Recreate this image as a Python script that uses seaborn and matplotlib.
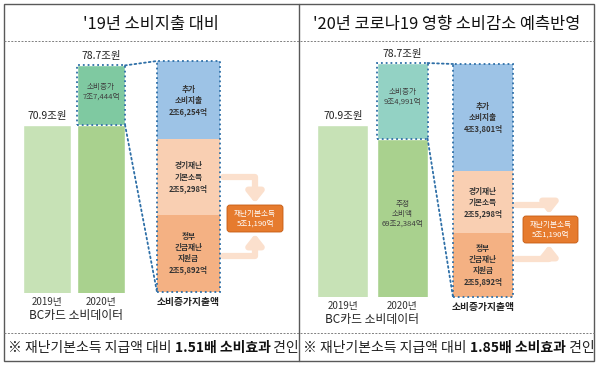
import matplotlib
matplotlib.use('Agg')
import matplotlib.pyplot as plt
import seaborn as sns
from matplotlib.patches import Rectangle, FancyBboxPatch, ConnectionPatch

# 데이터 (단위: 조원)
titles = ["'19년 소비지출 대비", "'20년 코로나19 영향 소비감소 예측반영"]
years = ['2019년', '2020년']
spend_2019 = [70.9, 70.9]
label_2020 = [78.7, 78.7]
base_2020 = [70.9, 69.2384]
increase = [7.7444, 9.4991]
base_text = [None, '추정\n소비액']
# 누적 막대: 아래에서 위 순서
stack_names = ['정부\n긴급재난\n지원금', '경기재난\n기본소득', '추가\n소비지출']
stack_left = [2.5892, 2.5298, 2.6254]
stack_right = [2.5892, 2.5298, 4.3801]
stacks = [stack_left, stack_right]
ratios = ['1.51배', '1.85배']

# 색상
c_2019 = '#c7e2b6'
c_2020 = '#a9d18e'
c_inc = ['#7fc9a1', '#93d2c4']
c_stack = ['#f4b183', '#f9cfb2', '#9dc3e6']
c_dot = '#2e6fa7'
c_arrow = '#fbe0cd'
c_box = '#e67b2e'
c_line = '#595959'


def fmt(v):
    jo = int(v)
    eok = int(round((v - jo) * 10000))
    return f'{jo}조{eok:,}억'


sns.set_theme(style='white')
plt.rcParams['font.family'] = ['Noto Sans CJK KR', 'DejaVu Sans']

W, H = 600, 366
fig = plt.figure(figsize=(6, 3.66), dpi=100)
bg = fig.add_axes([0, 0, 1, 1])
bg.set_xlim(0, W)
bg.set_ylim(H, 0)
bg.axis('off')


def px_axes(x0, y0, x1, y1):
    ax = fig.add_axes([x0 / W, 1 - y1 / H, (x1 - x0) / W, (y1 - y0) / H])
    ax.patch.set_alpha(0)
    return ax


# 표 테두리
bg.add_patch(Rectangle((4, 4), 590, 357, fill=False, ec=c_line, lw=1))
bg.plot([299, 299], [4, 361], color=c_line, lw=1)
for yy in (41, 333):
    bg.plot([4, 594], [yy, yy], color='#808080', lw=0.7, ls=(0, (2, 1.5)))

# 패널별 위치 (px)
layout = [
    dict(cx=151, main=(20, 55, 128, 293), ylo=49.0, w=0.89,
         stack=(157, 61, 220, 292), box=(227, 205, 283, 232),
         up_y=177, lo_y=256, ax_x=255, bc=(76, 316), foot_x=8),
    dict(cx=447, main=(313, 53, 432, 297), ylo=49.3, w=0.85,
         stack=(453, 64, 513, 297), box=(523, 216, 578, 243),
         up_y=205, lo_y=259, ax_x=549, bc=(372, 320), foot_x=303),
]

for i, L in enumerate(layout):
    bg.text(L['cx'], 24, titles[i], ha='center', va='center', fontsize=11.8, color='#111111')

    # 연도별 막대
    ax = px_axes(*L['main'])
    top_2020 = base_2020[i] + increase[i]
    sns.barplot(x=years, y=[spend_2019[i], top_2020], hue=years, palette=[c_2019, c_inc[i]],
                width=L['w'], saturation=1, legend=False, ax=ax)
    sns.barplot(x=years, y=[spend_2019[i], base_2020[i]], hue=years, palette=[c_2019, c_2020],
                width=L['w'], saturation=1, legend=False, ax=ax)
    ax.bar(1, increase[i], bottom=base_2020[i], width=L['w'], fill=False,
           edgecolor=c_dot, ls=':', lw=1.3, clip_on=False)
    ax.set_ylim(L['ylo'], 80)
    ax.set_xlim(-0.5, 1.5)
    ax.set_xlabel('')
    ax.set_ylabel('')
    ax.set_yticks([])
    sns.despine(ax=ax, left=True, bottom=True)
    ax.tick_params(axis='x', length=0, labelsize=7, colors='#333333', pad=3)

    ax.annotate(f'{spend_2019[i]}조원', (0, spend_2019[i]), xytext=(0, 3), textcoords='offset points',
                ha='center', va='bottom', fontsize=7.5, color='#222222')
    ax.annotate(f'{label_2020[i]}조원', (1, top_2020), xytext=(0, 3), textcoords='offset points',
                ha='center', va='bottom', fontsize=7.5, color='#222222')
    ax.text(1, base_2020[i] + increase[i] * 0.55, '소비증가\n' + fmt(increase[i]),
            ha='center', va='center', fontsize=5.5, color='#404040', linespacing=1.3)
    if base_text[i]:
        ax.text(1, base_2020[i] - 9.5, base_text[i] + '\n' + fmt(base_2020[i]),
                ha='center', va='center', fontsize=5.5, color='#404040', linespacing=1.3)

    # 소비증가지출액 누적 막대
    sx = px_axes(*L['stack'])
    vals = stacks[i]
    bottom = 0
    for name, v, c in zip(stack_names, vals, c_stack):
        sx.bar(0, v, bottom=bottom, width=1, color=c, edgecolor='none')
        sx.text(0, bottom + v / 2, name + '\n' + fmt(v), ha='center', va='center',
                fontsize=5.5, fontweight='bold', color='#333333', linespacing=1.3)
        bottom += v
    sx.bar(0, bottom, width=1, fill=False, edgecolor=c_dot, ls=':', lw=1.3, clip_on=False)
    sx.set_xlim(-0.5, 0.5)
    sx.set_ylim(0, bottom)
    sx.axis('off')

    # 점선 연결
    for pa, pb in (((1 + L['w'] / 2, top_2020), (-0.5, bottom)),
                   ((1 + L['w'] / 2, base_2020[i]), (-0.5, 0))):
        con = ConnectionPatch(xyA=pa, coordsA=ax.transData, xyB=pb, coordsB=sx.transData,
                              color=c_dot, ls=':', lw=1.3)
        fig.add_artist(con)

    bg.text(L['bc'][0], L['bc'][1], 'BC카드 소비데이터', ha='center', va='center',
            fontsize=8.5, color='#222222')
    bg.text((L['stack'][0] + L['stack'][2]) / 2, L['stack'][3] + 10, '소비증가지출액',
            ha='center', va='center', fontsize=7, fontweight='bold', color='#222222')

    # 재난기본소득 합계 상자와 화살표
    x0, y0, x1, y1 = L['box']
    bg.add_patch(FancyBboxPatch((x0, y0), x1 - x0, y1 - y0, boxstyle='round,pad=0,rounding_size=3',
                                fc=c_box, ec='#c55a11', lw=0.6))
    bg.text((x0 + x1) / 2, (y0 + y1) / 2, '재난기본소득\n' + fmt(vals[0] + vals[1]),
            ha='center', va='center', fontsize=5.5, color='white', linespacing=1.3)
    sxr = L['stack'][2] + 3
    for ys, ye in ((L['up_y'], y0 - 2), (L['lo_y'], y1 + 2)):
        bg.annotate('', xy=(L['ax_x'], ye), xytext=(sxr, ys),
                    arrowprops=dict(arrowstyle='-|>,head_length=0.5,head_width=0.4',
                                    color=c_arrow, lw=4.5, mutation_scale=12, shrinkA=0, shrinkB=0,
                                    connectionstyle='angle,angleA=0,angleB=90,rad=0'))

    # 하단 요약 문구
    t1 = bg.text(L['foot_x'], 348, '※ 재난기본소득 지급액 대비 ', ha='left', va='center',
                 fontsize=10, color='#222222')
    t2 = bg.annotate(ratios[i] + ' 소비효과', xy=(1, 0), xycoords=t1, ha='left', va='bottom',
                     fontsize=10, fontweight='bold', color='#111111')
    bg.annotate(' 견인', xy=(1, 0), xycoords=t2, ha='left', va='bottom',
                fontsize=10, color='#222222')

fig.savefig('out.png', dpi=100)
